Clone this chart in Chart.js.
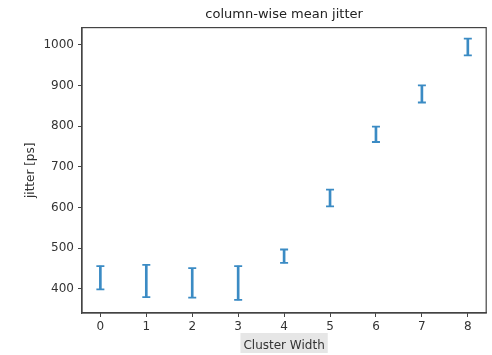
<!DOCTYPE html>
<html>
<head>
<meta charset="utf-8">
<script src="https://cdn.jsdelivr.net/npm/chart.js@4.4.1/dist/chart.umd.min.js"></script>
<style>
  html, body { margin: 0; padding: 0; background: #fff; }
  #wrap { width: 492px; height: 355px; }
</style>
</head>
<body>
<div id="wrap"><canvas id="jitterChart" width="492" height="355"></canvas></div>
<script>
// cluster widths and error bar ranges (ps)
const clusterWidths = [0, 1, 2, 3, 4, 5, 6, 7, 8];
const jitterLow  = [399, 380, 379, 373, 464, 603, 761, 858, 974];
const jitterHigh = [456, 459, 451, 456, 497, 644, 799, 900, 1015];
const yTicks = [400, 500, 600, 700, 800, 900, 1000];

const barColor = '#3b8bc4';
const axisColor = '#444';
const textColor = '#333';

const stems = clusterWidths.map((x, i) => ({ x: x, y: [jitterLow[i], jitterHigh[i]] }));
const capsLow = clusterWidths.map((x, i) => ({ x: x, y: jitterLow[i] }));
const capsHigh = clusterWidths.map((x, i) => ({ x: x, y: jitterHigh[i] }));

// box around the plot area + grey highlight behind the x title
const frame = {
  id: 'frame',
  beforeDatasetsDraw(chart) {
    const { ctx, chartArea: a } = chart;
    ctx.save();
    ctx.strokeStyle = axisColor;
    ctx.lineWidth = 1.2;
    ctx.strokeRect(a.left, a.top, a.right - a.left, a.bottom - a.top);
    ctx.restore();
  },
  beforeDraw(chart) {
    const { ctx, chartArea: a } = chart;
    const txt = chart.options.scales.x.title.text;
    ctx.save();
    ctx.font = '12px "DejaVu Sans"';
    const w = ctx.measureText(txt).width + 6;
    const cx = (a.left + a.right) / 2;
    ctx.fillStyle = '#e6e6e6';
    ctx.fillRect(cx - w / 2, 333, w, 20);
    ctx.restore();
  }
};

new Chart(document.getElementById('jitterChart'), {
  type: 'bar',
  data: {
    datasets: [
      { type: 'bar', data: stems, backgroundColor: barColor, barThickness: 2, borderWidth: 0 },
      { type: 'scatter', data: capsLow, pointStyle: 'line', radius: 4, borderColor: barColor, borderWidth: 1.8 },
      { type: 'scatter', data: capsHigh, pointStyle: 'line', radius: 4, borderColor: barColor, borderWidth: 1.8 }
    ]
  },
  options: {
    responsive: false,
    animation: false,
    layout: { padding: { left: 24, right: 5, top: 0, bottom: 0 } },
    plugins: {
      legend: { display: false },
      tooltip: { enabled: false },
      title: {
        display: true,
        fullSize: false,
        text: 'column-wise mean jitter',
        color: '#222',
        font: { family: 'DejaVu Sans', size: 13, weight: 'normal' },
        padding: { top: 7, bottom: 5 }
      }
    },
    scales: {
      x: {
        type: 'linear',
        offset: false,
        min: -0.4,
        max: 8.4,
        afterBuildTicks: s => { s.ticks = clusterWidths.map(v => ({ value: v })); },
        afterFit: s => { s.height = 42; },
        grid: { display: true, offset: false, drawOnChartArea: false, drawTicks: true, tickLength: 4, color: axisColor },
        border: { display: true, color: axisColor, width: 1.2 },
        ticks: { color: textColor, font: { family: 'DejaVu Sans', size: 12 }, padding: 3, maxRotation: 0 },
        title: { display: true, text: 'Cluster Width', color: textColor, font: { family: 'DejaVu Sans', size: 12 }, padding: { top: 0, bottom: 2 } }
      },
      y: {
        min: 341,
        max: 1042,
        afterBuildTicks: s => { s.ticks = yTicks.map(v => ({ value: v })); },
        afterFit: s => { s.width = 58; },
        grid: { display: true, drawOnChartArea: false, drawTicks: true, tickLength: 4, color: axisColor },
        border: { display: true, color: axisColor, width: 1.2 },
        ticks: { color: textColor, font: { family: 'DejaVu Sans', size: 12 }, padding: 4, callback: v => String(v) },
        title: { display: true, text: 'jitter [ps]', color: textColor, font: { family: 'DejaVu Sans', size: 12 }, padding: { top: 0, bottom: 2 } }
      }
    }
  },
  plugins: [frame]
});
</script>
</body>
</html>
